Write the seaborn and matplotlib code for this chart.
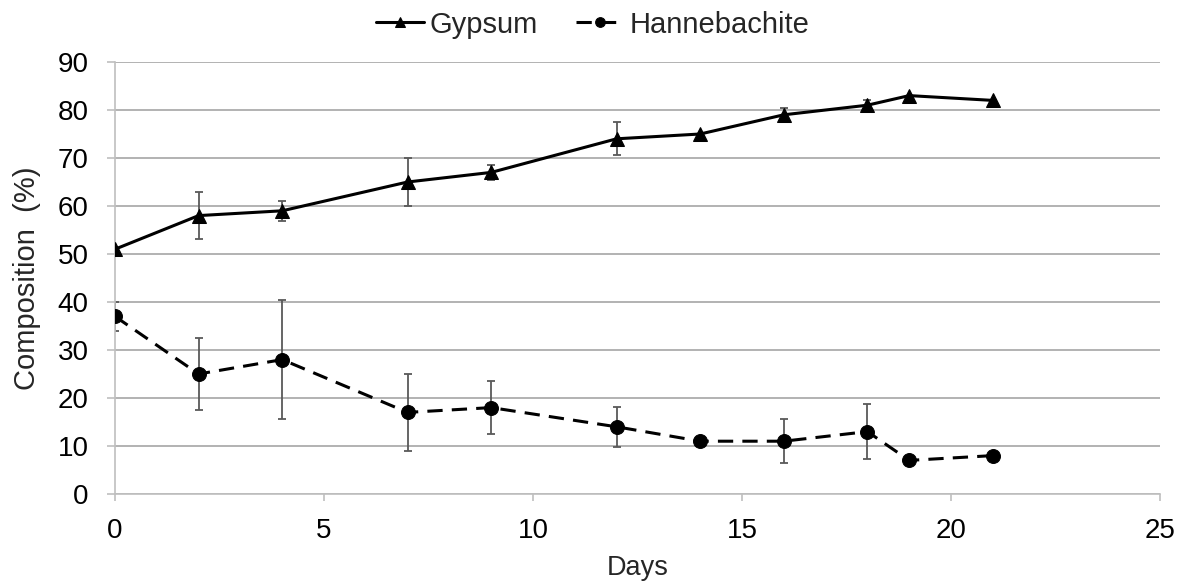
import seaborn as sns
import matplotlib.pyplot as plt
import pandas as pd

sns.set_theme(style="white")
plt.rcParams['font.family'] = ['Liberation Sans', 'DejaVu Sans']

days = [0, 2, 4, 7, 9, 12, 14, 16, 18, 19, 21]
gypsum = [51, 58, 59, 65, 67, 74, 75, 79, 81, 83, 82]
gypsum_err = [0, 4.9, 2.1, 4.9, 1.6, 3.4, 0, 1.4, 1.1, 0, 0]
hanne = [37, 25, 28, 17, 18, 14, 11, 11, 13, 7, 8]
hanne_err = [3.0, 7.6, 12.4, 8.1, 5.6, 4.2, 0, 4.6, 5.8, 0, 0]

df = pd.DataFrame({
    "Days": days * 2,
    "value": gypsum + hanne,
    "err": gypsum_err + hanne_err,
    "phase": ["Gypsum"] * len(days) + ["Hannebachite"] * len(days),
})

fig = plt.figure(figsize=(11.88, 5.84), dpi=100)
ax = fig.add_axes([115 / 1188, 1 - 494 / 584, (1160 - 115) / 1188, (494 - 62) / 584])

for name, sub in df.groupby("phase"):
    ax.errorbar(sub["Days"], sub["value"], yerr=sub["err"], fmt="none",
                ecolor="#595959", elinewidth=1.3, capsize=2.8, capthick=1.3, zorder=2)

sns.lineplot(
    data=df, x="Days", y="value", hue="phase", style="phase",
    palette={"Gypsum": "black", "Hannebachite": "black"},
    dashes={"Gypsum": "", "Hannebachite": (5, 3)},
    markers={"Gypsum": "^", "Hannebachite": "o"},
    markersize=10, linewidth=2.2, markeredgecolor="black",
    ax=ax, zorder=3,
)

ax.set_xlim(0, 25)
ax.set_ylim(0, 90)
ax.set_xticks(range(0, 26, 5))
ax.set_yticks(range(0, 91, 10))
ax.yaxis.grid(True, color="#a6a6a6", linewidth=1.2)
ax.set_axisbelow(True)
for s in ["top", "right"]:
    ax.spines[s].set_visible(False)
for s in ["left", "bottom"]:
    ax.spines[s].set_color("#bfbfbf")
    ax.spines[s].set_linewidth(1.2)
ax.tick_params(axis="x", bottom=True, length=5, width=1.2, color="#bfbfbf",
               labelsize=20, labelcolor="black", pad=12)
ax.tick_params(axis="y", left=True, length=6, width=1.2, color="#bfbfbf",
               labelsize=20, labelcolor="black", pad=13)
ax.set_xlabel("Days", fontsize=19.5, labelpad=8)
ax.set_ylabel("Composition  (%)", fontsize=21, labelpad=12)

handles, labels = ax.get_legend_handles_labels()
ax.legend(handles, labels, loc="lower center", bbox_to_anchor=(0.457, 1.0),
          ncol=2, frameon=False, fontsize=21, handlelength=1.65,
          markerscale=0.7, columnspacing=1.3, handletextpad=0.2,
          borderaxespad=0.4)

fig.savefig("out.png", dpi=100)
